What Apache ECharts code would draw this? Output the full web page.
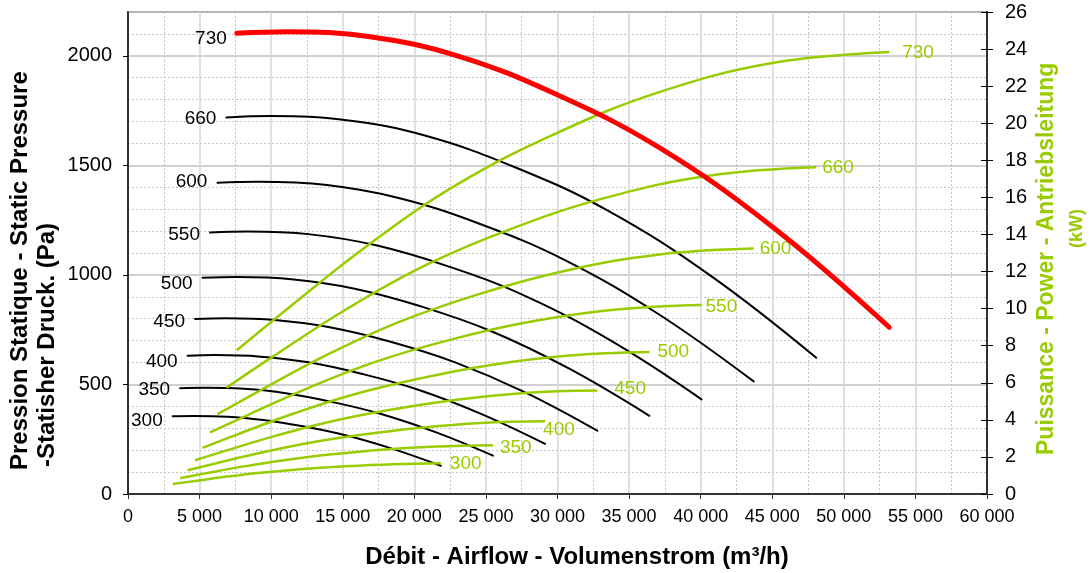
<!DOCTYPE html>
<html><head><meta charset="utf-8">
<script src="https://cdn.jsdelivr.net/npm/echarts@6/dist/echarts.min.js"></script>
<style>html,body{margin:0;padding:0;background:#fff}#chart{width:1090px;height:573px}</style>
</head><body><div id="chart"></div>
<script>
// Fan speeds (rpm) shown as curve labels
const speeds = [300, 350, 400, 450, 500, 550, 600, 660, 730];

// Airflow (m3/h), static pressure (Pa) and power (kW)
const flow300 = [3123, 4562, 6945, 9452, 12226, 15205, 18493, 21851];
const pres300 = [355, 356, 353, 338, 309, 268, 206, 129];
const powr300 = [0.54, 0.69, 0.94, 1.16, 1.35, 1.50, 1.61, 1.66];

const flow350 = [3644, 5322, 8103, 11027, 14264, 17740, 21575, 25493];
const pres350 = [483, 485, 480, 460, 420, 364, 280, 175];
const powr350 = [0.85, 1.10, 1.49, 1.84, 2.14, 2.39, 2.56, 2.63];

const flow400 = [4164, 6082, 9260, 12603, 16301, 20274, 24658, 29134];
const pres400 = [631, 634, 627, 601, 549, 476, 366, 229];
const powr400 = [1.28, 1.64, 2.22, 2.75, 3.19, 3.56, 3.83, 3.92];

const flow450 = [4685, 6843, 10418, 14178, 18339, 22808, 27740, 32776];
const pres450 = [799, 802, 793, 760, 695, 602, 464, 289];
const powr450 = [1.82, 2.34, 3.16, 3.91, 4.54, 5.07, 5.45, 5.58];

const flow500 = [5205, 7603, 11575, 15753, 20377, 25343, 30822, 36418];
const pres500 = [987, 990, 979, 938, 858, 744, 572, 357];
const powr500 = [2.49, 3.20, 4.34, 5.37, 6.23, 6.96, 7.47, 7.66];

const flow550 = [5726, 8363, 12733, 17329, 22414, 27877, 33904, 40060];
const pres550 = [1194, 1198, 1185, 1135, 1038, 900, 693, 432];
const powr550 = [3.32, 4.26, 5.77, 7.14, 8.30, 9.26, 9.94, 10.20];

const flow600 = [6247, 9123, 13890, 18904, 24452, 30411, 36986, 43701];
const pres600 = [1421, 1425, 1410, 1351, 1236, 1071, 824, 514];
const powr600 = [4.30, 5.54, 7.50, 9.27, 10.77, 12.02, 12.91, 13.24];

const flow660 = [6871, 10036, 15280, 20795, 26897, 33452, 40685, 48072];
const pres660 = [1719, 1725, 1706, 1635, 1495, 1296, 997, 622];
const powr660 = [5.73, 7.37, 9.98, 12.34, 14.34, 16.00, 17.18, 17.62];

const flow730 = [7600, 11100, 16900, 23000, 29750, 37000, 45000, 53170];
const pres730 = [2103, 2110, 2087, 2000, 1829, 1585, 1220, 761];
const powr730 = [7.75, 9.97, 13.50, 16.70, 19.40, 21.65, 23.25, 23.84];

const flows = [flow300, flow350, flow400, flow450, flow500, flow550, flow600, flow660, flow730];
const pressures = [pres300, pres350, pres400, pres450, pres500, pres550, pres600, pres660, pres730];
const powers = [powr300, powr350, powr400, powr450, powr500, powr550, powr600, powr660, powr730];

// label placement tweaks (pixels)
const presLabelDy = {300: 5, 350: 2, 400: 6, 450: 3, 500: 6, 550: 2, 600: -1, 660: 1, 730: 6};
const powLabelOff = {300: [3, 1], 350: [1, 3], 400: [-8, 8], 450: [11, -2], 500: [2, 0], 550: [-2, 2], 600: [0, 0], 660: [0, 0], 730: [7, 1]};

const GREEN = '#99CC00';
const FONT = '"Liberation Sans", Arial, sans-serif';

function fmtThousands(v) {
  const s = String(Math.round(v));
  return s.replace(/\B(?=(\d{3})+(?!\d))/g, ' ');
}

const pressureSeries = [];
const powerSeries = [];
speeds.forEach((sp, k) => {
  const f = flows[k], p = pressures[k], w = powers[k];
  const isTop = sp === 730;
  pressureSeries.push({
    name: 'P' + sp, type: 'line', xAxisIndex: 0, yAxisIndex: 0,
    smooth: 0.4, symbol: 'circle', symbolSize: 0, showSymbol: true, silent: true,
    z: isTop ? 5 : 2,
    lineStyle: {color: isTop ? '#FF0000' : '#000000', width: isTop ? 5 : 2, cap: 'round'},
    itemStyle: {color: 'transparent'},
    emphasis: {disabled: true},
    data: f.map((q, i) => i === 0 ? {
      value: [q, p[i]],
      label: {show: true, position: 'left', distance: 10, offset: [0, presLabelDy[sp]],
        formatter: String(sp), color: '#000', fontSize: 19, fontFamily: FONT}
    } : [q, p[i]])
  });
  powerSeries.push({
    name: 'W' + sp, type: 'line', xAxisIndex: 0, yAxisIndex: 1,
    smooth: 0.4, symbol: 'circle', symbolSize: 0, showSymbol: true, silent: true,
    z: 3,
    lineStyle: {color: GREEN, width: 2.5},
    itemStyle: {color: 'transparent'},
    emphasis: {disabled: true},
    data: f.map((q, i) => i === f.length - 1 ? {
      value: [q, w[i]],
      label: {show: true, position: 'right', distance: 6, offset: powLabelOff[sp],
        formatter: String(sp), color: GREEN, fontSize: 19, fontFamily: FONT}
    } : [q, w[i]])
  });
});
// draw order: black pressure, green power, red 730 pressure on top
const blackSeries = pressureSeries.filter(s => s.name !== 'P730');
const redSeries = pressureSeries.filter(s => s.name === 'P730');

const chart = echarts.init(document.getElementById('chart'), null, {renderer: 'canvas'});
chart.setOption({
  animation: false,
  backgroundColor: '#ffffff',
  grid: {left: 128, right: 103, top: 12, bottom: 79, show: true, borderColor: '#808080', borderWidth: 2, backgroundColor: 'transparent'},
  xAxis: [{
    type: 'value', min: 0, max: 60000, interval: 5000,
    axisLine: {show: true, onZero: false, lineStyle: {color: '#333', width: 2}},
    axisTick: {show: true, length: 5, lineStyle: {color: '#333'}},
    axisLabel: {fontSize: 18, color: '#000', fontFamily: FONT, margin: 14, formatter: fmtThousands},
    splitLine: {show: true, lineStyle: {color: '#d6d6d6', width: 1.5}},
    minorTick: {show: false, splitNumber: 2},
    minorSplitLine: {show: true, lineStyle: {color: '#c4c4c4', width: 1, type: [2, 2]}}
  }],
  yAxis: [{
    type: 'value', position: 'left', min: 0, max: 2200, interval: 500,
    axisLine: {show: true, onZero: false, lineStyle: {color: '#000', width: 1.5}},
    axisTick: {show: true, length: 5, lineStyle: {color: '#000'}},
    axisLabel: {fontSize: 20, color: '#000', fontFamily: FONT, margin: 16, showMaxLabel: false,
      formatter: v => String(Math.round(v))},
    splitLine: {show: true, lineStyle: {color: '#c0c0c0', width: 1.5}}
  }, {
    type: 'value', position: 'right', min: 0, max: 26, interval: 2,
    axisLine: {show: true, onZero: false, lineStyle: {color: '#000', width: 1.5}},
    axisTick: {show: true, length: 6, lineStyle: {color: '#000'}},
    axisLabel: {fontSize: 20, color: '#000', fontFamily: FONT, margin: 18, formatter: v => String(Math.round(v))},
    splitLine: {show: false}
  }, {
    type: 'value', position: 'left', min: 0, max: 2200, interval: 100,
    axisLine: {show: false}, axisTick: {show: false}, axisLabel: {show: false},
    splitLine: {show: true, lineStyle: {color: ['transparent', '#c4c4c4', '#c4c4c4', '#c4c4c4', '#c4c4c4'], width: 1, type: [2, 2]}}
  }, {
    type: 'value', position: 'right', min: 0, max: 26, interval: 2,
    axisLine: {show: false}, axisLabel: {show: false},
    axisTick: {show: true, inside: true, length: 6, lineStyle: {color: '#000'}},
    splitLine: {show: false}
  }],
  graphic: [
    {type: 'text', x: 20, y: 470, rotation: Math.PI / 2, silent: true,
     style: {text: 'Pression Statique - Static Pressure', font: 'bold 24px ' + FONT, fill: '#000', align: 'left', verticalAlign: 'middle'}},
    {type: 'text', x: 47, y: 467, rotation: Math.PI / 2, silent: true,
     style: {text: '-Statisher Druck. (Pa)', font: 'bold 24px ' + FONT, fill: '#000', align: 'left', verticalAlign: 'middle'}},
    {type: 'text', x: 1047, y: 455, rotation: Math.PI / 2, silent: true,
     style: {text: 'Puissance - Power - Antriebsleitung', font: 'bold 23px ' + FONT, fill: GREEN, align: 'left', verticalAlign: 'middle'}},
    {type: 'text', x: 1077, y: 248, rotation: Math.PI / 2, silent: true,
     style: {text: '(kW)', font: 'bold 18px ' + FONT, fill: GREEN, align: 'left', verticalAlign: 'middle'}},
    {type: 'text', x: 577, y: 557, silent: true,
     style: {text: 'Débit - Airflow - Volumenstrom (m³/h)', font: 'bold 24px ' + FONT, fill: '#000', align: 'center', verticalAlign: 'middle'}}
  ],
  series: [...blackSeries, ...powerSeries, ...redSeries]
});
</script>
</body></html>
